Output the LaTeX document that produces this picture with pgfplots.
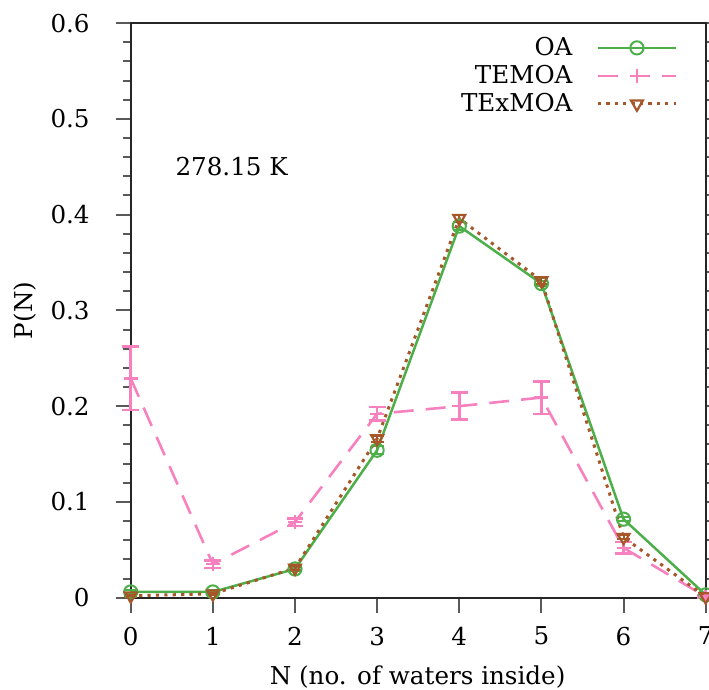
\documentclass[border=0pt]{standalone}
\usepackage{fontspec}
\setmainfont{DejaVu Serif}
\usepackage{pgfplots}
\pgfplotsset{compat=1.18}
\definecolor{cOA}{RGB}{77,175,74}
\definecolor{cTE}{RGB}{247,129,191}
\definecolor{cTX}{RGB}{166,86,40}
\begin{document}
\begin{tikzpicture}
\begin{axis}[
  scale only axis,
  width=287.5pt, height=287.3pt,
  at={(0,0)}, anchor=south west,
  xmin=0, xmax=7, ymin=0, ymax=0.6,
  xtick={0,1,2,3,4,5,6,7},
  ytick={0,0.1,0.2,0.3,0.4,0.5,0.6},
  minor ytick={0.02,0.04,...,0.59},
  xtick pos=bottom, ytick pos=both,
  tick align=outside,
  major tick length=7.5pt, minor tick length=4pt,
  every tick/.style={black!65, line width=1pt},
  axis line style={line width=1pt, black!85},
  /pgf/number format/assume math mode=true,
  /pgf/number format/fixed,
  font=\fontsize{12.3pt}{14pt}\selectfont,
  yticklabel style={xshift=-9.5pt},
  xticklabel style={yshift=-3.5pt},
  xlabel={N (no. of waters inside)},
  ylabel={P(N)},
  every axis x label/.style={at={(axis description cs:0.499,-0.139)}, anchor=center},
  every axis y label/.style={at={(axis description cs:-0.184,0.5)}, anchor=center, rotate=90},
  legend plot pos=right,
  legend cell align=right,
  legend style={at={(rel axis cs:0.962,0.99)}, anchor=north east, draw=none, fill=none,
    row sep=-0.6pt, font=\fontsize{12.3pt}{14pt}\selectfont,
    /tikz/every even column/.append style={column sep=10pt},
    /tikz/every odd column/.append style={column sep=10pt}},
  legend image code/.code={\draw[mark repeat=2,mark phase=2,#1] plot coordinates {(0pt,0pt) (19.5pt,0pt) (39pt,0pt)};},
  clip=false,
]
\addplot[color=cOA, line width=1.25pt, mark=o, mark size=3.3pt, mark options={solid, line width=1pt},
  error bars/.cd, y dir=both, y explicit, error mark=-, error mark options={rotate=90, mark size=3.2pt, line width=1pt},
  error bar style={line width=1pt}]
  table[x=x, y=y, y error=e] {
x y e
0 0.006 0.002
1 0.006 0.002
2 0.030 0.002
3 0.154 0.004
4 0.388 0.004
5 0.328 0.003
6 0.082 0.002
7 0.003 0.001
};
\addlegendentry{OA}
\addplot[color=cTE, line width=1.3pt, dash pattern=on 10pt off 6pt, mark=+, mark size=3.5pt, mark options={solid, line width=1.3pt},
  error bars/.cd, y dir=both, y explicit, error mark=-, error mark options={rotate=90, mark size=4.2pt, line width=1.3pt, solid},
  error bar style={line width=1.3pt, solid}]
  table[x=x, y=y, y error=e] {
x y e
0 0.229 0.033
1 0.035 0.004
2 0.079 0.004
3 0.192 0.007
4 0.200 0.014
5 0.209 0.017
6 0.052 0.006
7 0.001 0.001
};
\addlegendentry{TEMOA}
\addplot[color=cTX, line width=1.5pt, dash pattern=on 1.6pt off 2.6pt, mark=triangle, mark size=3.4pt, mark options={solid, rotate=180, line width=1.1pt},
  error bars/.cd, y dir=both, y explicit, error mark=-, error mark options={rotate=90, mark size=3.2pt, line width=1pt, solid},
  error bar style={line width=1pt, solid}]
  table[x=x, y=y, y error=e] {
x y e
0 0.002 0.001
1 0.004 0.001
2 0.031 0.002
3 0.166 0.003
4 0.396 0.004
5 0.331 0.003
6 0.063 0.002
7 0.001 0.001
};
\addlegendentry{TExMOA}
\node[anchor=west, font=\fontsize{12.3pt}{14pt}\selectfont] at (axis cs:0.46,0.45) {278.15 K};
\end{axis}
\pgfresetboundingbox
\path[use as bounding box] (-65.35pt,-46.15pt) rectangle (289.15pt,298.85pt);
\end{tikzpicture}
\end{document}
